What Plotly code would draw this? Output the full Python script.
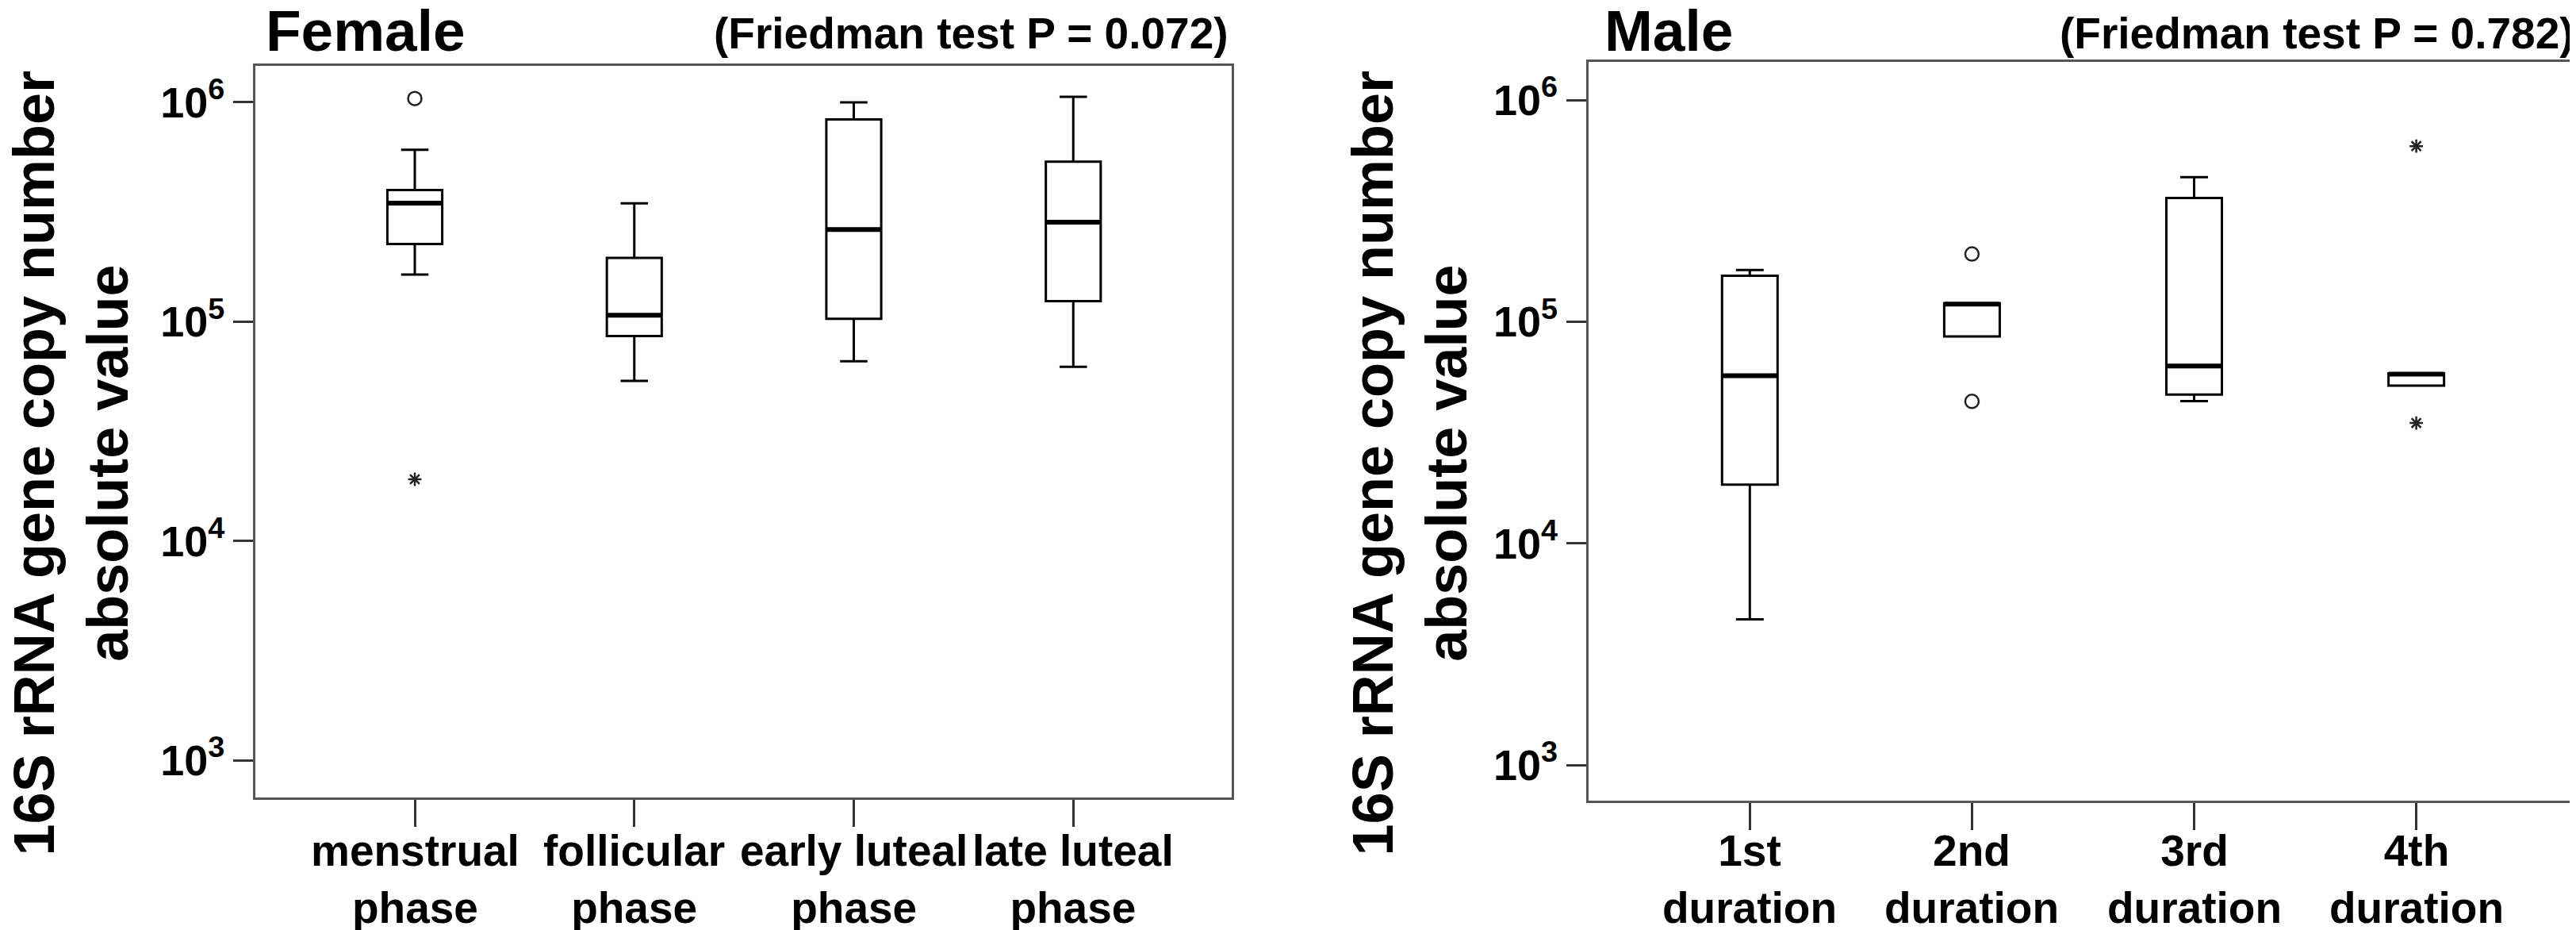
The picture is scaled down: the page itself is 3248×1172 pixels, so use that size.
import plotly.graph_objects as go
from plotly.subplots import make_subplots

# catégories et statistiques (quartiles, moustaches)
female_cat = ["menstrual<br>phase", "follicular<br>phase", "early luteal<br>phase", "late luteal<br>phase"]
female_low = [1.64e5, 5.37e4, 6.6e4, 6.22e4]
female_q1 = [2.26e5, 8.6e4, 1.03e5, 1.24e5]
female_med = [3.47e5, 1.07e5, 2.63e5, 2.84e5]
female_q3 = [3.98e5, 1.95e5, 8.36e5, 5.36e5]
female_up = [6.07e5, 3.46e5, 1.0e6, 1.06e6]
female_circ_x = [0]
female_circ_y = [1.04e6]
female_star_x = [0]
female_star_y = [1.91e4]

male_cat = ["1st<br>duration", "2nd<br>duration", "3rd<br>duration", "4th<br>duration"]
male_low = [4.54e3, 8.57e4, 4.38e4, 5.14e4]
male_q1 = [1.84e4, 8.57e4, 4.69e4, 5.14e4]
male_med = [5.7e4, 1.2e5, 6.31e4, 5.8e4]
male_q3 = [1.61e5, 1.21e5, 3.61e5, 5.85e4]
male_up = [1.71e5, 1.21e5, 4.49e5, 5.85e4]
male_circ_x = [1, 1]
male_circ_y = [2.02e5, 4.37e4]
male_star_x = [3, 3]
male_star_y = [6.19e5, 3.49e4]

ytick_vals = [1e3, 1e4, 1e5, 1e6]
ytick_text = ["10<sup>3</sup>", "10<sup>4</sup>", "10<sup>5</sup>", "10<sup>6</sup>"]

FONT = "Liberation Sans, Arial, Helvetica, sans-serif"
BOX_W = 0.25

fig = make_subplots(rows=1, cols=2)


def add_panel(col, cats, low, q1, med, q3, up, cx, cy, sx, sy):
    pos = list(range(len(cats)))
    fig.add_trace(go.Box(
        x=pos, q1=q1, median=med, q3=q3, lowerfence=low, upperfence=up,
        width=BOX_W, whiskerwidth=0.5, boxpoints=False,
        fillcolor="white", line=dict(color="black", width=3),
        showlegend=False, hoverinfo="skip"), row=1, col=col)

    # médiane plus épaisse
    mx, my = [], []
    for p, m in zip(pos, med):
        mx += [p - BOX_W / 2, p + BOX_W / 2, None]
        my += [m, m, None]
    fig.add_trace(go.Scatter(x=mx, y=my, mode="lines",
                             line=dict(color="black", width=6),
                             showlegend=False, hoverinfo="skip"), row=1, col=col)

    # valeurs atypiques (cercles) et extrêmes (étoiles)
    fig.add_trace(go.Scatter(x=cx, y=cy, mode="markers",
                             marker=dict(symbol="circle-open", size=17, color="#222",
                                         line=dict(width=2.5)),
                             showlegend=False, hoverinfo="skip"), row=1, col=col)
    fig.add_trace(go.Scatter(x=sx, y=sy, mode="markers",
                             marker=dict(symbol="asterisk-open", size=14, color="#222",
                                         line=dict(width=2.5, color="#222")),
                             showlegend=False, hoverinfo="skip"), row=1, col=col)

    fig.update_xaxes(tickvals=pos, range=[-0.726, 3.722], showticklabels=False,
                     row=1, col=col)

    # libellés des catégories (placés plus près des graduations que les ticklabels)
    xref = "x" if col == 1 else "x2"
    for p, c in zip(pos, cats):
        fig.add_annotation(x=p, xref=xref, y=0.0614, yref="paper", text=c,
                           xanchor="center", yanchor="middle", showarrow=False,
                           font=dict(family=FONT, size=55, color="black", weight="bold"))


add_panel(1, female_cat, female_low, female_q1, female_med, female_q3, female_up,
          female_circ_x, female_circ_y, female_star_x, female_star_y)
add_panel(2, male_cat, male_low, male_q1, male_med, male_q3, male_up,
          male_circ_x, male_circ_y, male_star_x, male_star_y)

fig.update_xaxes(showline=True, mirror=True, linecolor="#555", linewidth=3,
                 showgrid=False, zeroline=False, ticks="outside", ticklen=34,
                 tickwidth=2.5, tickcolor="#333")
fig.update_yaxes(type="log", showline=True, mirror=True, linecolor="#555", linewidth=3,
                 showgrid=False, zeroline=False, ticks="outside", ticklen=25,
                 tickwidth=2.5, tickcolor="#333",
                 tickvals=ytick_vals, ticktext=ytick_text,
                 tickfont=dict(family=FONT, size=54, color="black", weight="bold"))

fig.update_layout(
    xaxis=dict(domain=[0.0967, 0.4757]),
    xaxis2=dict(domain=[0.6142, 0.9978]),
    yaxis=dict(domain=[0.1493, 0.936], range=[2.83, 6.166]),
    yaxis2=dict(domain=[0.1459, 0.9403], range=[2.839, 6.172]),
)

ytitle = "16S rRNA gene copy number<br>absolute value"
annots = [
    dict(x=82 / 3248, y=0.509, text=ytitle, textangle=-90,
         font=dict(size=72, weight="bold")),
    dict(x=1770 / 3248, y=0.509, text=ytitle, textangle=-90,
         font=dict(size=72, weight="bold")),
    dict(x=325 / 3248, y=0.974, text="Female", xanchor="left",
         font=dict(size=73, weight="bold")),
    dict(x=2013 / 3248, y=0.974, text="Male", xanchor="left",
         font=dict(size=73, weight="bold")),
    dict(x=1543 / 3248, y=0.971, text="(Friedman test P = 0.072)", xanchor="right",
         font=dict(size=55, weight="bold")),
    dict(x=3240 / 3248, y=0.971, text="(Friedman test P = 0.782)", xanchor="right",
         font=dict(size=55, weight="bold")),
]
for a in annots:
    a.setdefault("xanchor", "center")
    a["font"].update(family=FONT, color="black")
    fig.add_annotation(xref="paper", yref="paper", yanchor="middle",
                       showarrow=False, **a)

fig.update_layout(width=3248, height=1172, margin=dict(l=0, r=0, t=0, b=0),
                  plot_bgcolor="white", paper_bgcolor="white")

fig.write_html("out.html")
